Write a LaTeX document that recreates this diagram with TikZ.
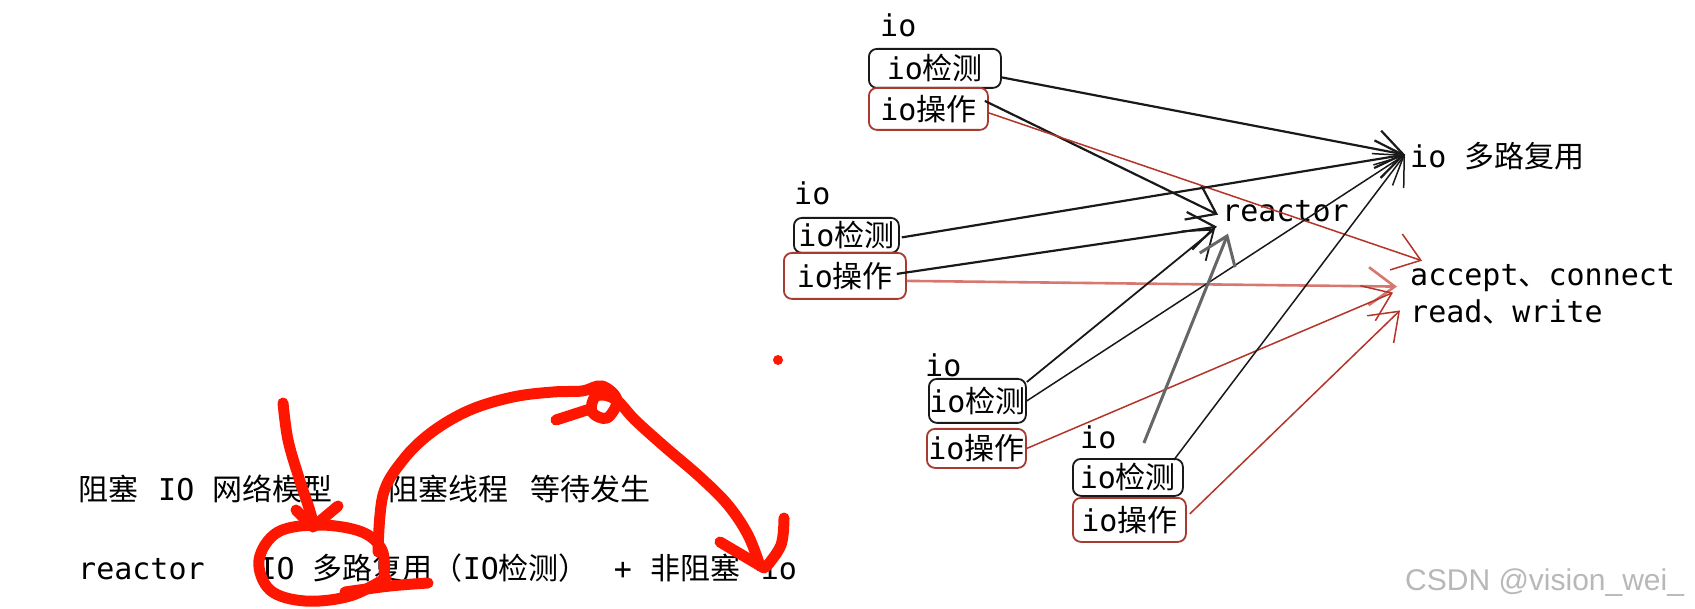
\documentclass[tikz,border=0pt]{standalone}
\usepackage{fontspec}
\setmonofont{DejaVu Sans Mono}
\newfontfamily\cjk{Noto Sans CJK SC}
\newfontfamily\wmfont{Liberation Sans}
\usetikzlibrary{arrows.meta,calc}
\newcommand\zh[1]{{\cjk #1}}
\definecolor{boxred}{RGB}{168,58,48}
\definecolor{arrred}{RGB}{180,52,40}
\definecolor{pinkred}{RGB}{214,120,112}
\definecolor{penred}{RGB}{255,22,0}
\begin{document}
\begin{tikzpicture}[x=1pt,y=-1pt,
  every node/.style={font=\fontsize{30}{36}\selectfont\ttfamily, inner sep=0pt},
  lbl/.style={anchor=base west},
  chk/.style={draw=black!90, line width=1.8pt, rounded corners=8pt, anchor=north west},
  opb/.style={draw=boxred, line width=1.8pt, rounded corners=8pt, anchor=north west},
  tip/.style={-{Straight Barb[length=26pt,width=38pt]}},
  blk/.style={tip, draw=black!90, line width=2.2pt},
  gry/.style={tip, draw=black!60, line width=3pt},
  redl/.style={tip, draw=arrred, line width=1.5pt},
  pinkl/.style={tip, draw=pinkred, line width=2.6pt},
  pen/.style={draw=penred, line width=11pt, line cap=round, line join=round}
]
\useasboundingbox (0,0) rectangle (1695,609);
\fill[white] (0,0) rectangle (1695,609);

% group 1
\node[lbl] (io1) at (880,37) {io};
\node[chk, minimum width=132pt, minimum height=39pt] (d1) at (868,48) {io\zh{检测}};
\node[opb, minimum width=119pt, minimum height=42pt] (o1) at (868,87) {io\zh{操作}};
% group 2
\node[lbl] (io2) at (794,205) {io};
\node[chk, minimum width=105pt, minimum height=35pt] (d2) at (793,217) {io\zh{检测}};
\node[opb, minimum width=122pt, minimum height=46pt] (o2) at (783,252) {io\zh{操作}};
% group 3
\node[lbl] (io3) at (925,377) {io};
\node[chk, minimum width=97pt, minimum height=44pt] (d3) at (928,378) {io\zh{检测}};
\node[opb, minimum width=99pt, minimum height=39pt] (o3) at (926,428) {io\zh{操作}};
% group 4
\node[lbl] (io4) at (1080,448) {io};
\node[chk, minimum width=110pt, minimum height=37pt] (d4) at (1072,458) {io\zh{检测}};
\node[opb, minimum width=113pt, minimum height=44pt] (o4) at (1072,497) {io\zh{操作}};

% targets
\node[lbl] (mux) at (1410,168) {io\hspace{18pt}\zh{多路复用}};
\node[lbl] (reactor) at (1222,222) {reactor};
\node[lbl] (acc) at (1410,286) {accept\zh{、}connect};
\node[lbl] (rw) at (1410,323) {read\zh{、}write};

% connectors
\draw[blk] ($(d1.east)+(0,9)$) -- ($(mux.west)+(-5,-2)$);
\draw[blk] ($(o1.east)+(-4,-8)$) -- ($(reactor.west)+(-4,3)$);
\draw[redl] ($(o1.east)+(0,4)$) -- ($(acc.north west)+(12,-4)$);

\draw[blk] ($(d2.east)+(2,2)$) -- ($(mux.west)+(-5,-2)$);
\draw[blk] ($(o2.east)+(-10,-2)$) -- ($(reactor.west)+(-5,15)$);
\draw[pinkl] ($(o2.east)+(0,5)$) -- ($(acc.west)+(-13,8)$);

\draw[blk, line width=1.8pt] ($(d3.north east)+(0,4)$) -- ($(reactor.west)+(-7,17)$);
\draw[blk, line width=1.5pt] (d3.east) -- ($(mux.west)+(-5,-2)$);
\draw[redl] (o3.east) -- ($(acc.west)+(-17,14)$);

\draw[gry] ($(d4.north)+(16,-15)$) -- ($(reactor.south west)+(6,11)$);
\draw[blk, line width=1.5pt] ($(d4.north east)+(-10,2)$) -- ($(mux.west)+(-5,-2)$);
\draw[redl] ($(o4.east)+(3,-6)$) -- ($(rw.west)+(-10,-2)$);

% bottom text
\node[lbl] (line1) at (78,500) {\zh{阻塞}\hspace{20pt}IO\hspace{18pt}\zh{网络模型}\hspace{56pt}\zh{阻塞线程}\hspace{22pt}\zh{等待发生}};
\node[lbl] (line2) at (78,579) {reactor\hspace{54pt}IO\hspace{18pt}\zh{多路复用（}IO\zh{检测）}\hspace{25pt}+\hspace{19pt}\zh{非阻塞}\hspace{20pt}io};

% watermark
\node[lbl, font=\wmfont\fontsize{30}{36}\selectfont, text=black!28] (wm) at (1405,590) {CSDN @vision\_wei\_};

% red freehand marks
\fill[penred] (778,360) circle (5pt);
\draw[pen] plot[smooth,tension=0.6] coordinates {(283,403) (288,440) (299,478) (309,508) (314,526)};
\draw[pen] (296,510) -- (313,527) -- (338,506);
\draw[pen] plot[smooth,tension=0.6] coordinates {(384,575) (382,550) (362,532) (320,525) (278,532) (259,560) (270,590) (305,601) (350,596) (386,578)};
\draw[pen] plot[smooth,tension=0.6] coordinates {(345,592) (390,586) (428,583)};
\draw[pen] plot[smooth,tension=0.6] coordinates {(378,552) (383,495) (403,460) (432,432) (470,410) (513,397) (553,392) (582,391) (602,386) (617,400) (607,418) (592,412) (596,396) (615,399) (635,420) (665,447) (700,477) (728,505) (748,535) (760,566)};
\draw[pen] (556,420) -- (590,409);
\draw[pen] (720,542) -- (764,568);
\draw[pen] plot[smooth,tension=0.6] coordinates {(784,518) (781,545) (766,567)};
\end{tikzpicture}
\end{document}
